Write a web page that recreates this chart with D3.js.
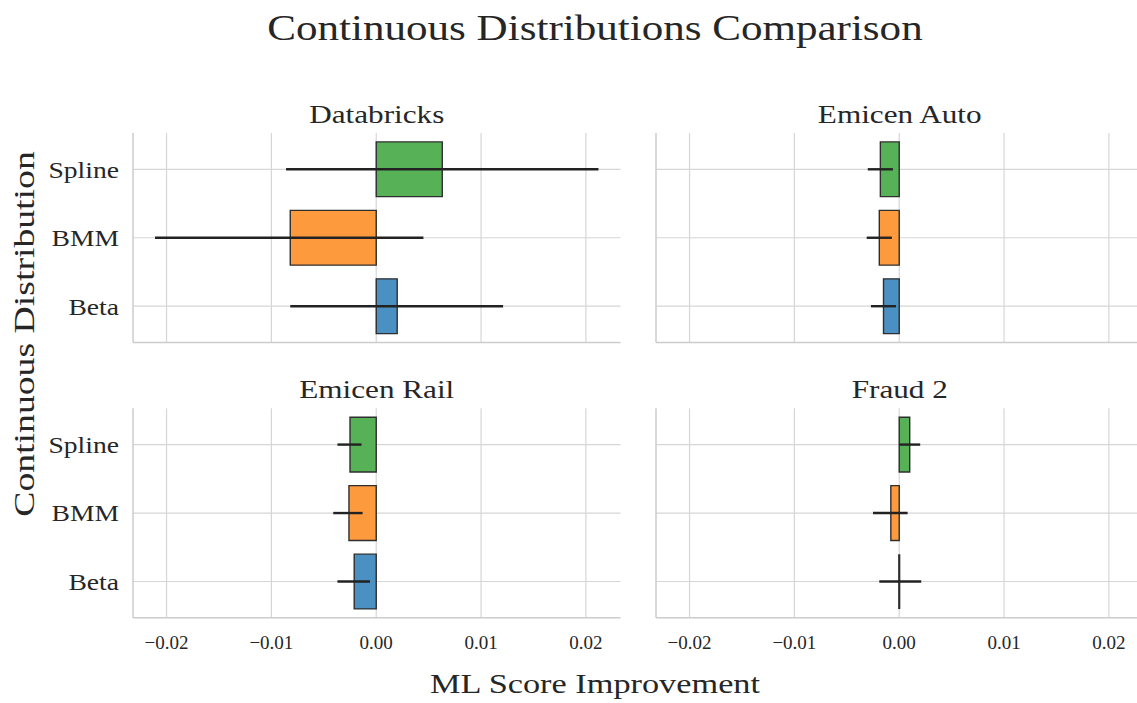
<!DOCTYPE html>
<html>
<head>
<meta charset="utf-8">
<script src="https://cdn.jsdelivr.net/npm/d3@7"></script>
<style>
  html, body { margin: 0; padding: 0; background: #fff; }
  svg { display: block; }
  text { font-family: "Liberation Serif", "DejaVu Serif", serif; fill: #262626; }
</style>
</head>
<body>
<svg id="chart" width="1137" height="703"></svg>
<script>
// Distributions shown on each panel (top to bottom)
const distributions = ["Spline", "BMM", "Beta"];
const datasets = ["Databricks", "Emicen Auto", "Emicen Rail", "Fraud 2"];
const distColors = ["#57b257", "#fe9a3e", "#4a90c2"];

// Mean improvement per dataset, ordered as distributions
const meanDatabricks = [0.0063, -0.0082, 0.0020];
const meanEmicenAuto = [-0.0018, -0.0019, -0.0015];
const meanEmicenRail = [-0.0025, -0.0026, -0.0021];
const meanFraud2 = [0.0010, -0.0008, 0.0000];

// Confidence interval bounds per dataset
const lowDatabricks = [-0.0086, -0.0211, -0.0082];
const highDatabricks = [0.0212, 0.0045, 0.0121];
const lowEmicenAuto = [-0.0030, -0.0031, -0.0027];
const highEmicenAuto = [-0.0006, -0.0007, -0.0003];
const lowEmicenRail = [-0.0037, -0.0041, -0.0037];
const highEmicenRail = [-0.0014, -0.0013, -0.0006];
const lowFraud2 = [0.0000, -0.0025, -0.0019];
const highFraud2 = [0.0020, 0.0008, 0.0021];

const xTicks = [-0.02, -0.01, 0.00, 0.01, 0.02];
const xDomain = [-0.0232, 0.0233];

const panels = [
  { title: datasets[0], mean: meanDatabricks, lo: lowDatabricks, hi: highDatabricks, col: 0, row: 0 },
  { title: datasets[1], mean: meanEmicenAuto, lo: lowEmicenAuto, hi: highEmicenAuto, col: 1, row: 0 },
  { title: datasets[2], mean: meanEmicenRail, lo: lowEmicenRail, hi: highEmicenRail, col: 0, row: 1 },
  { title: datasets[3], mean: meanFraud2, lo: lowFraud2, hi: highFraud2, col: 1, row: 1 }
];

const svg = d3.select("#chart");
const colX = [133, 656];
const rowY = [133, 408.3];
const panelW = 487.5;
const panelH = 209.5;

const fmt = v => (v < 0 ? "\u2212" : "") + d3.format(".2f")(Math.abs(v));

// Widen serif text horizontally by factor k (book-face proportions)
function widen(sel, k) {
  sel.each(function () {
    const w = this.getComputedTextLength();
    d3.select(this).attr("textLength", w * k).attr("lengthAdjust", "spacingAndGlyphs");
  });
  return sel;
}

panels.forEach(p => {
  const x0 = colX[p.col], y0 = rowY[p.row];
  const g = svg.append("g").attr("transform", `translate(${x0},${y0})`);

  const x = d3.scaleLinear().domain(xDomain).range([0, panelW]);
  const y = d3.scaleBand().domain(distributions).range([0, panelH])
    .paddingInner(0.2).paddingOuter(0.13);

  // vertical grid lines
  g.append("g").selectAll("line").data(xTicks).join("line")
    .attr("x1", d => x(d)).attr("x2", d => x(d))
    .attr("y1", 0).attr("y2", panelH)
    .attr("stroke", "#d6d6d6").attr("stroke-width", 1.2);

  // horizontal grid lines at category centres
  g.append("g").selectAll("line").data(distributions).join("line")
    .attr("x1", 0).attr("x2", panelW)
    .attr("y1", d => y(d) + y.bandwidth() / 2).attr("y2", d => y(d) + y.bandwidth() / 2)
    .attr("stroke", "#d6d6d6").attr("stroke-width", 1.2);

  // spines
  g.append("line").attr("x1", 0).attr("x2", 0).attr("y1", 0).attr("y2", panelH)
    .attr("stroke", "#cccccc").attr("stroke-width", 1.5);
  g.append("line").attr("x1", 0).attr("x2", panelW).attr("y1", panelH).attr("y2", panelH)
    .attr("stroke", "#cccccc").attr("stroke-width", 1.5);

  // bars drawn as closed paths so a zero-width bar still shows its edge
  const rows = distributions.map((d, i) => ({ d, i, m: p.mean[i], lo: p.lo[i], hi: p.hi[i] }));
  g.append("g").selectAll("path").data(rows).join("path")
    .attr("d", r => {
      const xa = x(0), xb = x(r.m);
      const ya = y(r.d), yb = y(r.d) + y.bandwidth();
      return `M${xa},${ya}H${xb}V${yb}H${xa}Z`;
    })
    .attr("fill", r => distColors[r.i])
    .attr("stroke", "#2e2e2e").attr("stroke-width", r => r.m === 0 ? 2.2 : 1.4);

  // error bars
  g.append("g").selectAll("line").data(rows).join("line")
    .attr("x1", r => x(r.lo)).attr("x2", r => x(r.hi))
    .attr("y1", r => y(r.d) + y.bandwidth() / 2).attr("y2", r => y(r.d) + y.bandwidth() / 2)
    .attr("stroke", "#222222").attr("stroke-width", 2.4);

  // x tick labels on the bottom row only (shared x axis)
  if (p.row === 1) {
    g.append("g").selectAll("text").data(xTicks).join("text")
      .attr("x", d => x(d)).attr("y", panelH + 31)
      .attr("text-anchor", "middle").attr("font-size", 19)
      .text(fmt);
  }

  // y tick labels on the left column only
  if (p.col === 0) {
    widen(g.append("g").selectAll("text").data(distributions).join("text")
      .attr("x", -14).attr("y", d => y(d) + y.bandwidth() / 2)
      .attr("dy", "0.35em").attr("text-anchor", "end").attr("font-size", 24)
      .text(d => d), 1.15);
  }

  // panel title
  widen(g.append("text").attr("x", panelW / 2).attr("y", -10)
    .attr("text-anchor", "middle").attr("font-size", 26)
    .text(p.title), 1.2);
});

// figure title
widen(svg.append("text").attr("x", 595).attr("y", 40)
  .attr("text-anchor", "middle").attr("font-size", 35)
  .text("Continuous Distributions Comparison"), 1.23);

// shared axis labels
widen(svg.append("text").attr("x", 595).attr("y", 693)
  .attr("text-anchor", "middle").attr("font-size", 27)
  .text("ML Score Improvement"), 1.27);

widen(svg.append("text")
  .attr("transform", "translate(34,334) rotate(-90)")
  .attr("text-anchor", "middle").attr("font-size", 29)
  .text("Continuous Distribution"), 1.3);
</script>
</body>
</html>
